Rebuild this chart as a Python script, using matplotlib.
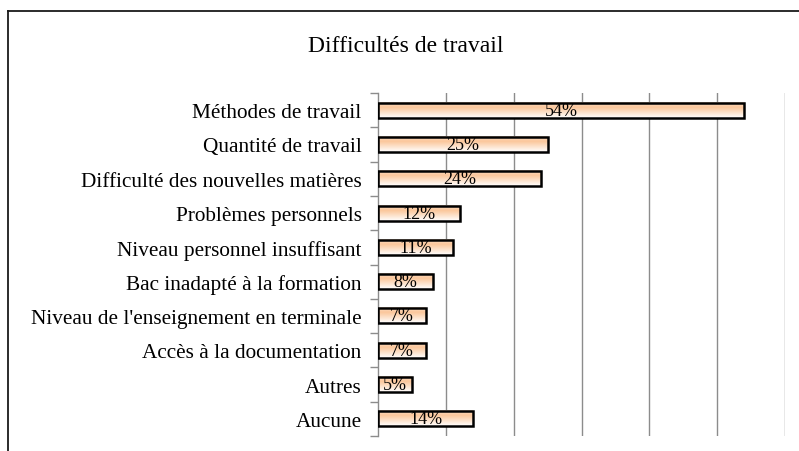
import numpy as np
import matplotlib
matplotlib.use("Agg")
import matplotlib.pyplot as plt
from matplotlib.lines import Line2D
from matplotlib.colors import LinearSegmentedColormap

categories = [
    "Méthodes de travail",
    "Quantité de travail",
    "Difficulté des nouvelles matières",
    "Problèmes personnels",
    "Niveau personnel insuffisant",
    "Bac inadapté à la formation",
    "Niveau de l'enseignement en terminale",
    "Accès à la documentation",
    "Autres",
    "Aucune",
]
values = [54, 25, 24, 12, 11, 8, 7, 7, 5, 14]
value_labels = ["54%", "25%", "24%", "12%", "11%", "8%", "7%", "7%", "5%", "14%"]
title = "Difficultés de travail"

plt.rcParams['font.family'] = ['Liberation Serif', 'DejaVu Serif']

W, H = 799, 452
fig = plt.figure(figsize=(W / 100, H / 100), dpi=100)
ax = fig.add_axes([378.3 / W, 1 - 437 / H, (785 - 378.3) / W, (437 - 94) / H])

n = len(categories)
ypos = np.arange(n)[::-1]
bh = 0.44

cmap = LinearSegmentedColormap.from_list(
    "peach", [(0.0, "#ffffff"), (0.68, "#fbc69a"), (1.0, "#fde2cb")])
grad = np.linspace(0, 1, 64).reshape(-1, 1)

for y, v in zip(ypos, values):
    ax.imshow(grad, extent=(0, v, y - bh / 2, y + bh / 2), origin='lower',
              aspect='auto', cmap=cmap, vmin=0, vmax=1, zorder=2,
              interpolation='bilinear')
ax.barh(ypos, values, height=bh, facecolor='none', edgecolor='black',
        linewidth=1.8, zorder=3)

for y, v, lab in zip(ypos, values, value_labels):
    ax.text(v / 2, y, lab, ha='center', va='center', fontsize=13,
            color='black', zorder=4)

ax.set_xlim(0, 60)
ax.set_ylim(-0.5, n - 0.5)
ax.set_xticks(np.arange(10, 61, 10))
ax.xaxis.grid(True, color='#8c8c8c', linewidth=1.0)
ax.set_axisbelow(True)
ax.tick_params(axis='x', length=0, labelbottom=False)

ax.set_yticks(np.arange(-0.5, n, 1.0))
ax.set_yticklabels([])
ax.set_yticks(ypos, labels=categories, minor=True)
ax.tick_params(axis='y', which='major', length=6, color='#8c8c8c', width=1.0)
ax.tick_params(axis='y', which='minor', length=0, pad=12, labelsize=15.3)

for s in ['top', 'right', 'bottom']:
    ax.spines[s].set_visible(False)
ax.spines['left'].set_color('#8c8c8c')
ax.spines['left'].set_linewidth(1.0)

fig.text(308 / W, 1 - 47 / H, title, ha='left', va='center', fontsize=17)

# outer chart border (cropped)
fig.add_artist(Line2D([8 / W, 8 / W], [0, 1 - 12 / H], transform=fig.transFigure,
                      color='#1a1a1a', linewidth=1.3))
fig.add_artist(Line2D([8 / W, 1], [1 - 12 / H, 1 - 12 / H], transform=fig.transFigure,
                      color='#1a1a1a', linewidth=1.3))

fig.savefig("out.png", dpi=100)
